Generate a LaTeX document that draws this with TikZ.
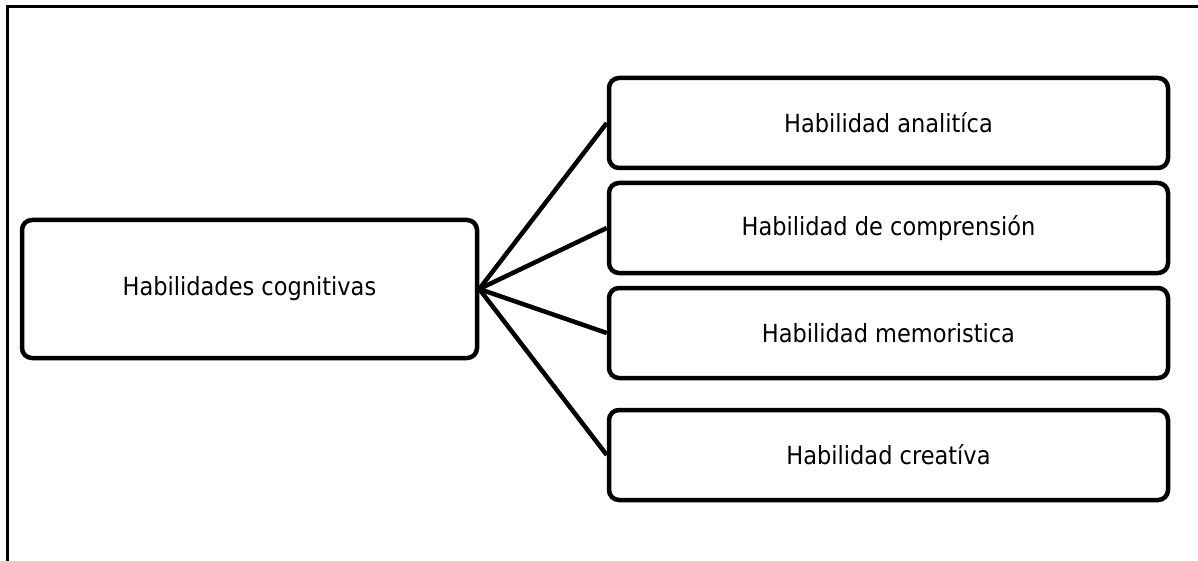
\documentclass[tikz,border=0pt]{standalone}
\usepackage{fontspec}
\setmainfont{DejaVu Sans Condensed}
\begin{document}
\begin{tikzpicture}[x=1pt,y=-1pt,
  box/.style={draw=black,line width=4.5pt,rounded corners=10pt,inner sep=0pt,align=center,font=\fontsize{25}{30}\selectfont},
  link/.style={line width=4.5pt},
  frame/.style={line width=3pt}]
\useasboundingbox (0,0) rectangle (1198,561);
\coordinate (ftr) at (1198,6.5);
\coordinate (ftl) at (7,6.5);
\coordinate (fbl) at (7,561);
\draw[frame] (ftr) -- (ftl) -- (fbl);
\node[box,minimum width=455pt,minimum height=138pt] (main) at (249.5,289) {Habilidades cognitivas};
\node[box,minimum width=559pt,minimum height=90pt] (b1) at (888.5,123) {Habilidad analitíca};
\node[box,minimum width=559pt,minimum height=90pt] (b2) at (888.5,228) {Habilidad de comprensión};
\node[box,minimum width=559pt,minimum height=90pt] (b3) at (888.5,333) {Habilidad memoristica};
\node[box,minimum width=559pt,minimum height=90pt] (b4) at (888.5,455) {Habilidad creatíva};
\foreach \b in {b1,b2,b3,b4} \draw[link] (main.east) -- (\b.west);
\end{tikzpicture}
\end{document}
